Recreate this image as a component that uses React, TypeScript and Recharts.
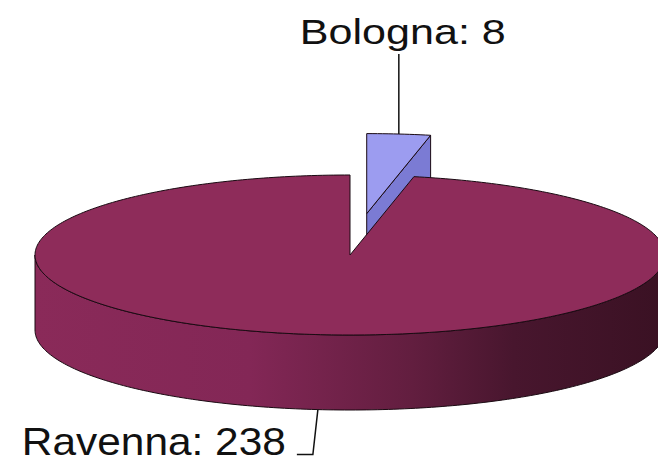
import { PieChart, Pie } from "recharts";

// values
const cities = ["Bologna", "Ravenna"];
const counts = [8, 238];

const data = cities.map((name, i) => ({ name, value: counts[i] }));

const W = 658;
const H = 467;
const TILT = 0.254; // ry / rx of the top face
const DEPTH = 75; // height of the pie wall
const RAD = Math.PI / 180;

const EXPLODE: Record<string, number> = { Bologna: 0.52 };
const TOP: Record<string, string> = { Bologna: "#9c9cf0", Ravenna: "#8e2c5a" };
const SIDE: Record<string, string> = { Bologna: "#7b7bd4", Ravenna: "url(#ravSide)" };
const EDGE = "#1a0a12";

const pt = (cx: number, cy: number, rx: number, ry: number, a: number) => [
  cx + rx * Math.cos(a * RAD),
  cy - ry * Math.sin(a * RAD),
];

// sampled elliptical arc, returned as "L x y" segments
function arc(cx: number, cy: number, rx: number, ry: number, from: number, to: number) {
  const n = Math.max(2, Math.ceil(Math.abs(to - from)));
  let d = "";
  for (let i = 0; i <= n; i++) {
    const [x, y] = pt(cx, cy, rx, ry, from + ((to - from) * i) / n);
    d += ` L${x.toFixed(2)},${y.toFixed(2)}`;
  }
  return d;
}

function Slice3D(props: any) {
  const name: string = props.payload?.name ?? props.name;
  const rx: number = props.outerRadius;
  const ry = rx * TILT;
  const a0 = Math.min(props.startAngle, props.endAngle);
  const a1 = Math.max(props.startAngle, props.endAngle);
  const mid = (a0 + a1) / 2;
  const ex = EXPLODE[name] ?? 0;
  const cx = props.cx + ex * rx * Math.cos(mid * RAD);
  const cy = props.cy - ex * ry * Math.sin(mid * RAD);

  const walls: JSX.Element[] = [];

  // radial cut walls that face the viewer
  const radial = (a: number, key: string) => {
    const [x, y] = pt(cx, cy, rx, ry, a);
    walls.push(
      <path
        key={key}
        d={`M${cx},${cy} L${x},${y} L${x},${y + DEPTH} L${cx},${cy + DEPTH} Z`}
        fill={SIDE[name]}
        stroke={EDGE}
        strokeWidth={1}
      />
    );
  };
  if (Math.cos(a0 * RAD) > 0.001) radial(a0, "r0");
  if (Math.cos(a1 * RAD) < -0.001) radial(a1, "r1");

  // front part of the outer wall
  for (let k = -2; k <= 1; k++) {
    const f0 = Math.max(a0, 180 + 360 * k);
    const f1 = Math.min(a1, 360 + 360 * k);
    if (f1 - f0 <= 0) continue;
    const [sx, sy] = pt(cx, cy, rx, ry, f0);
    const top = arc(cx, cy, rx, ry, f0, f1);
    const bottom = arc(cx, cy + DEPTH, rx, ry, f1, f0);
    walls.push(
      <path
        key={`w${k}`}
        d={`M${sx},${sy}${top}${bottom} Z`}
        fill={SIDE[name]}
        stroke={EDGE}
        strokeWidth={1}
      />
    );
  }

  const topFace = `M${cx},${cy}${arc(cx, cy, rx, ry, a0, a1)} Z`;

  return (
    <g>
      <defs>
        <linearGradient
          id="ravSide"
          gradientUnits="userSpaceOnUse"
          x1={props.cx - rx}
          x2={props.cx + rx}
          y1={0}
          y2={0}
        >
          <stop offset="0" stopColor="#8a2a59" />
          <stop offset="0.34" stopColor="#832756" />
          <stop offset="0.6" stopColor="#621e3f" />
          <stop offset="0.76" stopColor="#48162e" />
          <stop offset="1" stopColor="#3a1123" />
        </linearGradient>
      </defs>
      {walls}
      <path d={topFace} fill={TOP[name]} stroke={EDGE} strokeWidth={1} />
    </g>
  );
}

function SliceLabel(props: any) {
  const name: string = props.payload?.name ?? props.name;
  const value: number = props.value;
  const rx: number = props.outerRadius;
  const ry = rx * TILT;
  const mid: number = props.midAngle;
  const ex = EXPLODE[name] ?? 0;
  const cx = props.cx + ex * rx * Math.cos(mid * RAD);
  const cy = props.cy - ex * ry * Math.sin(mid * RAD);
  const [x, y] = pt(cx, cy, rx, ry, mid);
  const font = { fontFamily: "'Liberation Sans', Arial, sans-serif", fill: "#111" };

  if (Math.sin(mid * RAD) > 0) {
    // label above the back of the pie
    return (
      <g>
        <line x1={x} y1={y} x2={x} y2={y - 80} stroke="#111" strokeWidth={1.5} />
        <text
          x={x + 4}
          y={y - 90}
          textAnchor="middle"
          fontSize={35}
          textLength={206}
          lengthAdjust="spacingAndGlyphs"
          {...font}
        >
          {`${name}: ${value}`}
        </text>
      </g>
    );
  }
  const by = y + DEPTH;
  return (
    <g>
      <polyline
        points={`${x},${by} ${x - 5},${by + 45} ${x - 21},${by + 45}`}
        fill="none"
        stroke="#111"
        strokeWidth={1.5}
      />
      <text
        x={x - 32}
        y={by + 45}
        textAnchor="end"
        fontSize={39}
        textLength={264}
        lengthAdjust="spacingAndGlyphs"
        {...font}
      >
        {`${name}: ${value}`}
      </text>
    </g>
  );
}

export default function App() {
  return (
    <div style={{ width: W, height: H, background: "#fff" }}>
      <style>{"body{margin:0}"}</style>
      <PieChart width={W} height={H} margin={{ top: 0, right: 0, bottom: 0, left: 0 }}>
        <Pie
          data={data}
          dataKey="value"
          nameKey="name"
          cx={350}
          cy={255}
          outerRadius={315}
          startAngle={90}
          endAngle={-270}
          stroke="none"
          shape={Slice3D}
          label={SliceLabel}
          labelLine={false}
          isAnimationActive={false}
        />
      </PieChart>
    </div>
  );
}
